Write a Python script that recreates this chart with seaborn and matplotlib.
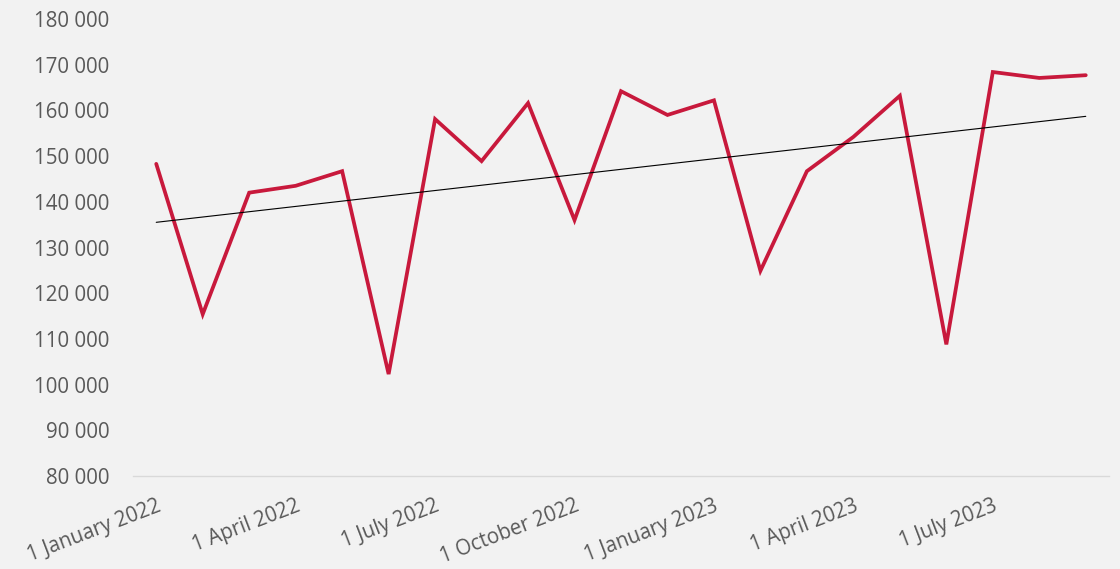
import numpy as np
import pandas as pd
import matplotlib
matplotlib.use("Agg")
import matplotlib.pyplot as plt
from matplotlib.ticker import FuncFormatter, FixedLocator
import seaborn as sns

# Monthly totals, January 2022 - September 2023
months = pd.date_range("2022-01-01", "2023-09-01", freq="MS")
values = [148300, 115400, 142000, 143500, 146700, 102300, 158100, 148900, 161600,
          136000, 164200, 159000, 162200, 124900, 146700, 154200, 163200, 108800,
          168400, 167100, 167700]
tick_labels = ["1 January 2022", "1 April 2022", "1 July 2022", "1 October 2022",
               "1 January 2023", "1 April 2023", "1 July 2023"]

df = pd.DataFrame({"month": months, "value": values})
df["idx"] = np.arange(len(df))

sns.set_theme(style="white")
plt.rcParams["font.family"] = ["Open Sans", "DejaVu Sans"]

bg = "#f2f2f2"
text_col = "#595959"

fig = plt.figure(figsize=(11.2, 5.69), dpi=100, facecolor=bg)
ax = fig.add_axes([133 / 1120, 1 - 476 / 569, (1109 - 133) / 1120, (476 - 19) / 569])
ax.set_facecolor(bg)

sns.lineplot(data=df, x="idx", y="value", ax=ax, color="#c8193c", linewidth=2.7,
             solid_joinstyle="miter")

# Linear trend over the series
slope, intercept = np.polyfit(df["idx"], df["value"], 1)
xs = np.array([df["idx"].iloc[0], df["idx"].iloc[-1]])
ax.plot(xs, slope * xs + intercept, color="black", linewidth=0.8)

ax.set_xlim(-0.5, len(df) - 0.5)
ax.set_ylim(80000, 180000)
ax.set_yticks(np.arange(80000, 180001, 10000))
ax.yaxis.set_major_formatter(FuncFormatter(lambda v, p: f"{int(v):,}".replace(",", " ")))

ax.xaxis.set_major_locator(FixedLocator(df["idx"].iloc[::3].tolist()))
ax.set_xticklabels(tick_labels, rotation=21, ha="right", rotation_mode="anchor")

ax.tick_params(axis="both", length=0, labelsize=14.8, labelcolor=text_col)
ax.tick_params(axis="y", pad=17)
ax.tick_params(axis="x", pad=14)

for s in ["top", "right", "left"]:
    ax.spines[s].set_visible(False)
ax.spines["bottom"].set_color("#d9d9d9")
ax.spines["bottom"].set_linewidth(1.0)

ax.set_xlabel("")
ax.set_ylabel("")
ax.grid(False)

fig.savefig("out.png", dpi=100, facecolor=bg)
